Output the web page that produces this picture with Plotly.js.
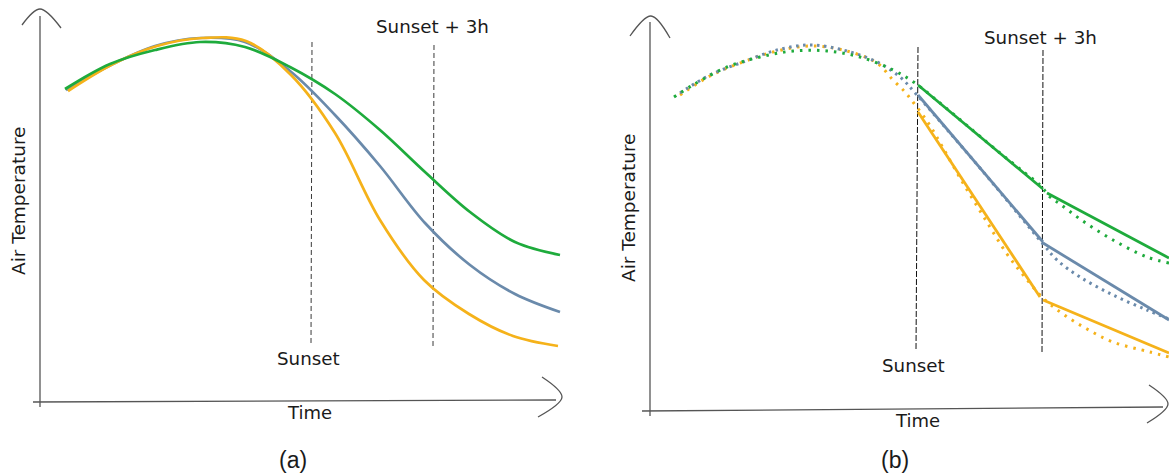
<!DOCTYPE html>
<html>
<head>
<meta charset="utf-8">
<script src="https://cdn.plot.ly/plotly-3.0.1.min.js"></script>
<style>html,body{margin:0;padding:0;background:#fff;}#chart{width:1169px;height:474px;}</style>
</head>
<body>
<div id="chart"></div>
<script>
// Schematic values (x = time position, y = screen height; smaller y = warmer)
// ---------- Panel (a) ----------
const aGreenX  = [65,110,155,200,245,290,335,380,425,470,515,560];
const aGreenY  = [89,64,50,42,47,67,94,130,172,212,242,255];
const aBlueX   = [66,111,155,200,245,290,335,380,425,470,515,560];
const aBlueY   = [90,65,46,38,42,71,115,166,223,265,294,312];
const aOrangeX = [68,113,157,202,246,291,335,380,424,469,513,558];
const aOrangeY = [91,64,46,38,41,75,133,220,280,314,336,346];
const aSunsetX = [312,311];   const aSunsetY = [42,345];
const aSunset3X = [434,433];  const aSunset3Y = [45,346];
const aYAxisX = [40,40];      const aYAxisY = [16,407];
const aXAxisX = [33,556];     const aXAxisY = [402,400];
const aTopArrowX = [22,40,61];    const aTopArrowY = [25,9,28];
const aRightArrowX = [542,562,538]; const aRightArrowY = [377,397,417];

// ---------- Panel (b) ----------
const bGreenDotX = [674,693,727,760,793,827,860,893,915,940,970,1000,1025,1040,1050,1060,1080,1113,1147,1169];
const bGreenDotY = [97,85,67,57,51,51,57,70,83,103,128,153,173,185,197,204,219,240,257,263];
const bBlueDotX  = [680,710,743,777,810,843,877,900,917,950,980,1010,1043,1057,1080,1113,1147,1169];
const bBlueDotY  = [93,75,62,50,45,50,62,77,95,133,168,204,244,260,277,295,310,319];
const bOrangeDotX = [680,710,743,777,810,843,877,893,905,913,929,943,963,985,1007,1024,1043,1063,1087,1113,1150,1169];
const bOrangeDotY = [95,76,62,51,46,50,63,80,92,102,124,148,183,219,254,276,298,314,329,342,352,357];
const bGreenSolid1X = [918,1043];  const bGreenSolid1Y = [85,189];
const bGreenSolid2X = [1047,1169]; const bGreenSolid2Y = [193,258];
const bBlueSolid1X  = [918,1043];  const bBlueSolid1Y  = [95,242];
const bBlueSolid2X  = [1043,1169]; const bBlueSolid2Y  = [243,320];
const bOrangeSolid1X = [918,1040]; const bOrangeSolid1Y = [112,297];
const bOrangeSolid2X = [1043,1169]; const bOrangeSolid2Y = [300,353];
const bSunsetX = [918,916];    const bSunsetY = [47,351];
const bSunset3X = [1043,1042]; const bSunset3Y = [50,354];
const bYAxisX = [650,650];     const bYAxisY = [22,416];
const bXAxisX = [642,1163];    const bXAxisY = [411,407];
const bTopArrowX = [630,651,670];     const bTopArrowY = [36,16,38];
const bRightArrowX = [1149,1168,1147]; const bRightArrowY = [385,404,423];

const GREEN = '#1eab3c', BLUE = '#6a8aab', ORANGE = '#f5b21a';
const AXIS = '#555555', DASHC = '#3a3a3a';

function line(x, y, color, width, dash, shape) {
  return {x: x, y: y, type: 'scatter', mode: 'lines', hoverinfo: 'skip',
          line: {color: color, width: width, dash: dash || 'solid', shape: shape || 'linear', smoothing: 1}};
}

const traces = [
  // panel a
  line(aYAxisX, aYAxisY, AXIS, 1.3),
  line(aXAxisX, aXAxisY, AXIS, 1.3),
  line(aTopArrowX, aTopArrowY, AXIS, 1.3, 'solid', 'spline'),
  line(aRightArrowX, aRightArrowY, AXIS, 1.3, 'solid', 'spline'),
  line(aSunsetX, aSunsetY, DASHC, 1, '5px,3px'),
  line(aSunset3X, aSunset3Y, DASHC, 1, '5px,3px'),
  line(aBlueX, aBlueY, BLUE, 2.7, 'solid', 'spline'),
  line(aOrangeX, aOrangeY, ORANGE, 2.7, 'solid', 'spline'),
  line(aGreenX, aGreenY, GREEN, 2.7, 'solid', 'spline'),
  // panel b
  line(bYAxisX, bYAxisY, AXIS, 1.3),
  line(bXAxisX, bXAxisY, AXIS, 1.3),
  line(bTopArrowX, bTopArrowY, AXIS, 1.3, 'solid', 'spline'),
  line(bRightArrowX, bRightArrowY, AXIS, 1.3, 'solid', 'spline'),
  line(bSunsetX, bSunsetY, '#111', 1, '6px,2px'),
  line(bSunset3X, bSunset3Y, '#111', 1, '6px,2px'),
  line(bOrangeDotX, bOrangeDotY, ORANGE, 3, '2.5px,6px', 'spline'),
  line(bBlueDotX, bBlueDotY, BLUE, 3, '2.5px,4.5px', 'spline'),
  line(bGreenDotX, bGreenDotY, GREEN, 3, '2.5px,6px', 'spline'),
  line(bGreenSolid1X, bGreenSolid1Y, GREEN, 2.8),
  line(bGreenSolid2X, bGreenSolid2Y, GREEN, 2.8),
  line(bBlueSolid1X, bBlueSolid1Y, BLUE, 2.8),
  line(bBlueSolid2X, bBlueSolid2Y, BLUE, 2.8),
  line(bOrangeSolid1X, bOrangeSolid1Y, ORANGE, 2.8),
  line(bOrangeSolid2X, bOrangeSolid2Y, ORANGE, 2.8)
];

const TXT = '#1a1a1a';
const F = 'DejaVu Sans, sans-serif';
function label(x, y, text, size, angle, family) {
  return {x: x, y: y, xref: 'x', yref: 'y', text: text, showarrow: false,
          textangle: angle || 0, xanchor: 'center', yanchor: 'middle',
          font: {family: family || F, size: size, color: TXT}};
}

const annotations = [
  label(18, 201, 'Air Temperature', 18.5, -90),
  label(308, 358, 'Sunset', 18.3),
  label(432, 26, 'Sunset + 3h', 18.3),
  label(309, 412, 'Time', 18),
  label(293, 460, '(a)', 23, 0, 'Liberation Sans, Arial, sans-serif'),
  label(628, 208, 'Air Temperature', 18.5, -90),
  label(913, 365, 'Sunset', 18.3),
  label(1040, 37, 'Sunset + 3h', 18.3),
  label(917, 420, 'Time', 18),
  label(895, 460, '(b)', 23, 0, 'Liberation Sans, Arial, sans-serif')
];

const layout = {
  width: 1169, height: 474,
  margin: {l: 0, r: 0, t: 0, b: 0},
  paper_bgcolor: '#ffffff', plot_bgcolor: '#ffffff',
  showlegend: false, hovermode: false,
  xaxis: {range: [0, 1169], visible: false, fixedrange: true},
  yaxis: {range: [474, 0], visible: false, fixedrange: true},
  annotations: annotations
};

Plotly.newPlot('chart', traces, layout, {staticPlot: true, displayModeBar: false});
</script>
</body>
</html>
